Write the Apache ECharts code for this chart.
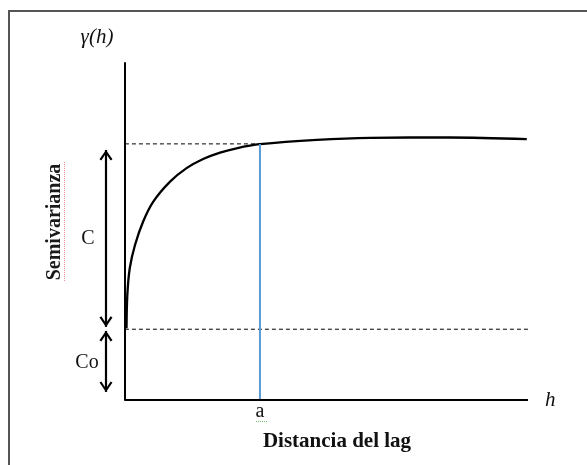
<!DOCTYPE html>
<html>
<head>
<meta charset="utf-8">
<script src="https://cdn.jsdelivr.net/npm/echarts@6/dist/echarts.min.js"></script>
<style>
  html, body { margin: 0; padding: 0; background: #fff; }
  #chart { width: 587px; height: 465px; }
</style>
</head>
<body>
<div id="chart"></div>
<script>
// semivariogram (x: lag distance, y: semivariance)
var curveX = [0.4, 0.6, 1.2, 2.5, 4.5, 7.0, 11.2, 15.3, 19.4, 23.6, 27.7, 33.5, 47.6, 60.8, 80.6, 99.7];
var curveY = [21.3, 31.2, 39.1, 46.0, 52.9, 58.8, 64.8, 68.8, 71.5, 73.4, 74.7, 75.9, 77.2, 77.8, 77.9, 77.4];
var sill = 76.0;      // C0 + C
var nugget = 21.0;    // C0
var range = 33.5;     // a
var xMax = 100;
var tickValues = [range];
var tickLabels = ['a'];
// double arrows for C and Co, left of the y axis
var arrowX = -4.7;
var arrowC = [21.7, 74.2];
var arrowCo = [2.4, 20.5];

var serif = '"Liberation Serif", "DejaVu Serif", serif';
// open chevron, tip at the centre of its box so it sits on the line end
var chevron = 'path://M6,-10L6.01,-10L6,-9.99Z M0,9L6,0L12,9L10.3,10.1L6,3.4L1.7,10.1Z';

var curveData = [];
for (var i = 0; i < curveX.length; i++) {
	curveData.push([curveX[i], curveY[i]]);
}

function arrowLine(y) {
	return [{ coord: [arrowX, y[0]] }, { coord: [arrowX, y[1]] }];
}

var chart = echarts.init(document.getElementById('chart'));
var option = {
	animation: false,
	grid: {
		left: 4,
		width: 524,
		top: 63,
		bottom: 65
	},
	xAxis: {
		type: 'value',
		min: -30,
		max: xMax,
		axisLine: { show: false },
		axisTick: { show: false },
		splitLine: { show: false },
		axisLabel: {
			customValues: tickValues,
			formatter: function (v) {
				return tickLabels[tickValues.indexOf(v)] || '';
			},
			margin: 2,
			fontFamily: serif,
			fontSize: 20,
			color: '#111'
		},
		name: 'h',
		nameLocation: 'end',
		nameGap: 17,
		nameTextStyle: {
			fontFamily: serif,
			fontStyle: 'italic',
			fontSize: 21,
			color: '#111',
			padding: [8, 0, 0, 0]
		}
	},
	yAxis: {
		type: 'value',
		min: 0,
		max: 100,
		axisLine: {
			show: true,
			onZero: true,
			lineStyle: { color: '#000', width: 2 }
		},
		axisTick: { show: false },
		axisLabel: { show: false },
		splitLine: { show: false }
	},
	series: [{
		type: 'line',
		data: curveData,
		symbol: 'none',
		smooth: 0.35,
		silent: true,
		lineStyle: { color: '#000', width: 2.3 }
	}, {
		type: 'line',
		data: [[0, sill], [range, sill]],
		symbol: 'none',
		silent: true,
		lineStyle: { color: '#000', width: 1, type: [4, 3] }
	}, {
		type: 'line',
		data: [[0, nugget], [xMax, nugget]],
		symbol: 'none',
		silent: true,
		lineStyle: { color: '#000', width: 1, type: [4, 3] }
	}, {
		type: 'line',
		data: [[range, 0], [range, sill]],
		symbol: 'none',
		silent: true,
		lineStyle: { color: '#5b9bd5', width: 2 }
	}, {
		// x axis baseline (only from the origin to the right)
		type: 'line',
		data: [[0, 0], [xMax, 0]],
		symbol: 'none',
		silent: true,
		clip: false,
		lineStyle: { color: '#000', width: 2 },
		markLine: {
			silent: true,
			symbol: [chevron, chevron],
			symbolSize: [13, 21],
			label: { show: false },
			lineStyle: { color: '#000', width: 2.2, type: 'solid', opacity: 1 },
			emphasis: { disabled: true },
			data: [arrowLine(arrowC), arrowLine(arrowCo)]
		}
	}],
	graphic: [{
		type: 'polyline',
		silent: true,
		shape: { points: [[9, 465], [9, 11], [587, 11]] },
		style: { stroke: '#555', lineWidth: 2, fill: null }
	}, {
		type: 'text',
		x: 97, y: 37,
		style: {
			text: 'γ(h)',
			font: 'italic 21px ' + serif,
			fill: '#111',
			align: 'center',
			verticalAlign: 'middle'
		}
	}, {
		type: 'text',
		x: 55, y: 222,
		rotation: Math.PI / 2,
		style: {
			text: 'Semivarianza',
			font: 'bold 20px ' + serif,
			fill: '#1a1a1a',
			align: 'center',
			verticalAlign: 'middle'
		}
	}, {
		type: 'line',
		silent: true,
		shape: { x1: 64.5, y1: 162, x2: 64.5, y2: 282 },
		style: { stroke: '#f08a8a', lineWidth: 1, lineDash: [1, 1] }
	}, {
		type: 'text',
		x: 88, y: 239,
		style: {
			text: 'C',
			font: '20px ' + serif,
			fill: '#111',
			align: 'center',
			verticalAlign: 'middle'
		}
	}, {
		type: 'text',
		x: 87, y: 363,
		style: {
			text: 'Co',
			font: '20px ' + serif,
			fill: '#111',
			align: 'center',
			verticalAlign: 'middle'
		}
	}, {
		type: 'line',
		silent: true,
		shape: { x1: 256, y1: 421.5, x2: 268, y2: 421.5 },
		style: { stroke: '#6cbf6c', lineWidth: 1, lineDash: [1, 1] }
	}, {
		type: 'text',
		x: 337, y: 442,
		style: {
			text: 'Distancia del lag',
			font: 'bold 21px ' + serif,
			fill: '#111',
			align: 'center',
			verticalAlign: 'middle'
		}
	}]
};
chart.setOption(option);
</script>
</body>
</html>
